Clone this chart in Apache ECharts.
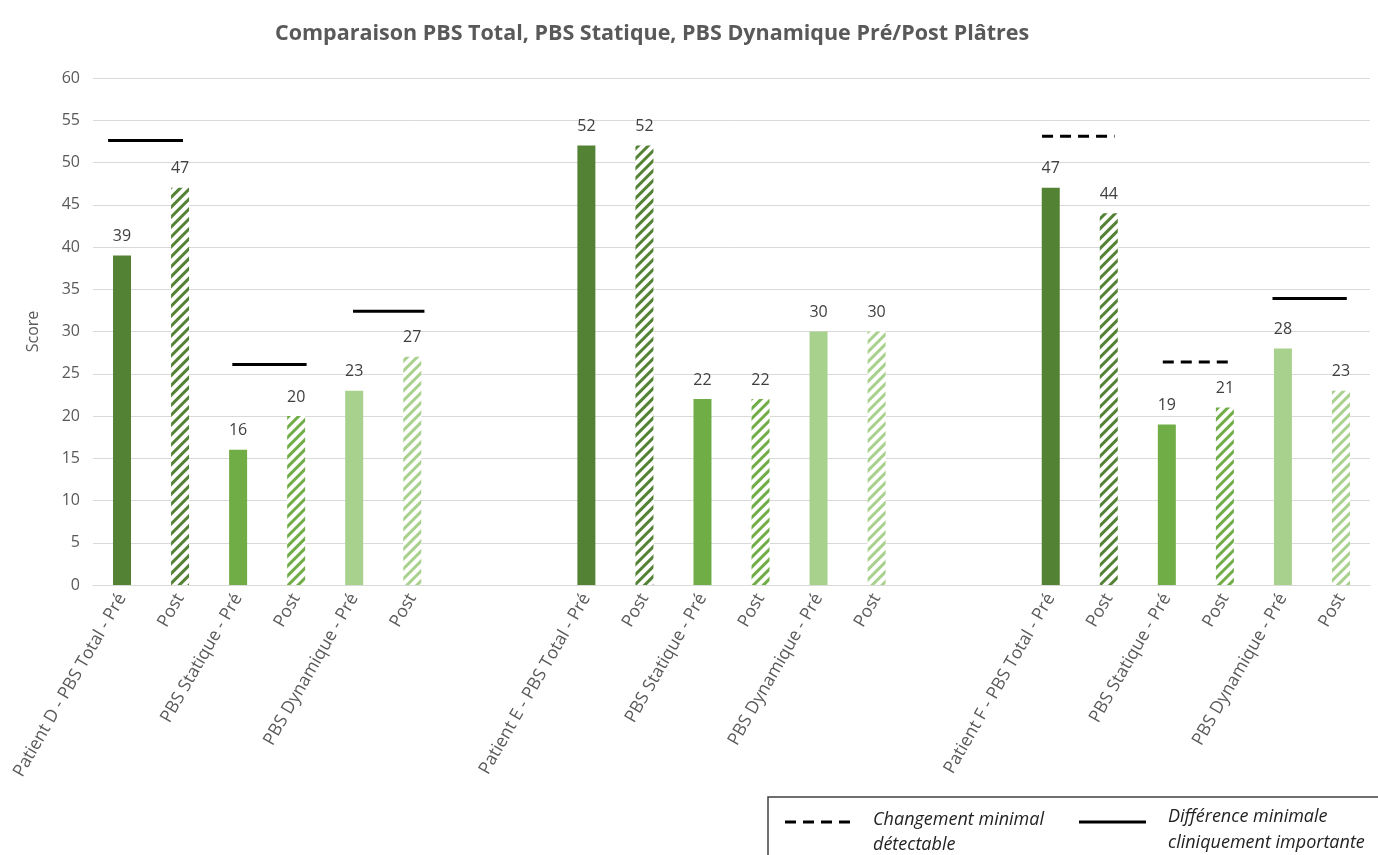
<!DOCTYPE html>
<html>
<head>
<meta charset="utf-8">
<script src="https://cdn.jsdelivr.net/npm/echarts@6/dist/echarts.min.js"></script>
<style>
    html, body { margin: 0; padding: 0; background: #fff; }
    #main { width: 1378px; height: 855px; }
</style>
</head>
<body>
<div id="main"></div>
<script>
    //类目（两组之间留两个空位）
    var categories = [
        'Patient D - PBS Total - Pré', 'Post', 'PBS Statique - Pré', 'Post', 'PBS Dynamique - Pré', 'Post', ' ', '  ',
        'Patient E - PBS Total - Pré', 'Post', 'PBS Statique - Pré', 'Post', 'PBS Dynamique - Pré', 'Post', '   ', '    ',
        'Patient F - PBS Total - Pré', 'Post', 'PBS Statique - Pré', 'Post', 'PBS Dynamique - Pré', 'Post'
    ];
    var scores = [
        39, 47, 16, 20, 23, 27, null, null,
        52, 52, 22, 22, 30, 30, null, null,
        47, 44, 19, 21, 28, 23
    ];
    var yTicks = [0, 5, 10, 15, 20, 25, 30, 35, 40, 45, 50, 55, 60];

    //阈值线：起止位置（类目序号），数值，类型
    var refStart = [-0.24, 1.9, 3.98, 15.85, 17.93, 19.82];
    var refEnd = [1.05, 3.18, 5.21, 17.1, 19.13, 21.1];
    var refValue = [52.6, 26.1, 32.4, 53.1, 26.4, 33.9];
    var refKind = ['mcid', 'mcid', 'mcid', 'mdc', 'mdc', 'mcid'];

    var greens = ['#548235', '#70ad47', '#a9d18e'];
    var grey = '#595959';

    var chart = echarts.init(document.getElementById('main'));

    var barData = scores.map(function (v, i) {
        var k = i % 8;
        var color = greens[Math.floor(k / 2)] || greens[0];
        if (k % 2 === 1) {
            return {
                value: v,
                itemStyle: {
                    color: '#ffffff',
                    decal: {
                        symbol: 'rect',
                        symbolSize: 1,
                        color: color,
                        backgroundColor: '#ffffff',
                        dashArrayX: [1, 0],
                        dashArrayY: [3, 3.6],
                        rotation: -Math.PI / 4
                    }
                }
            };
        }
        return { value: v, itemStyle: { color: color } };
    });

    var series = [{
        type: 'bar',
        xAxisIndex: 0,
        yAxisIndex: 0,
        barWidth: 18,
        data: barData,
        label: {
            show: true,
            position: 'top',
            distance: 11,
            color: '#404040',
            fontSize: 16,
            fontFamily: 'Open Sans'
        }
    }];

    refValue.forEach(function (v, i) {
        series.push({
            type: 'line',
            xAxisIndex: 1,
            yAxisIndex: 0,
            symbol: 'none',
            silent: true,
            lineStyle: {
                color: '#000',
                width: 3,
                type: refKind[i] === 'mdc' ? [11, 7] : 'solid'
            },
            data: [[refStart[i], v], [refEnd[i], v]]
        });
    });

    var option = {
        animation: false,
        backgroundColor: '#fff',
        title: {
            text: 'Comparaison PBS Total, PBS Statique, PBS Dynamique Pré/Post Plâtres',
            left: 270,
            top: 18,
            textStyle: {
                color: grey,
                fontSize: 21.5,
                fontWeight: 'bold',
                fontFamily: 'Open Sans'
            }
        },
        grid: {
            left: 93,
            right: 8,
            top: 78,
            bottom: 270,
            containLabel: false
        },
        xAxis: [{
            type: 'category',
            data: categories,
            axisTick: { show: false },
            axisLine: { lineStyle: { color: '#d9d9d9', width: 1 } },
            axisLabel: {
                interval: 0,
                rotate: 60,
                margin: 10,
                color: grey,
                fontSize: 17.5,
                fontFamily: 'Open Sans'
            }
        }, {
            type: 'value',
            min: -0.5,
            max: 21.5,
            show: false
        }],
        yAxis: {
            type: 'value',
            min: yTicks[0],
            max: yTicks[yTicks.length - 1],
            interval: 5,
            name: 'Score',
            nameLocation: 'middle',
            nameGap: 52,
            nameTextStyle: { color: grey, fontSize: 16, fontFamily: 'Open Sans' },
            axisLine: { show: false },
            axisTick: { show: false },
            axisLabel: { color: grey, fontSize: 16, margin: 13, fontFamily: 'Open Sans' },
            splitLine: { lineStyle: { color: '#d9d9d9', width: 1 } }
        },
        graphic: [
            {
                type: 'rect',
                shape: { x: 768, y: 797, width: 700, height: 120 },
                style: { fill: 'none', stroke: '#404040', lineWidth: 1.5 }
            },
            {
                type: 'line',
                shape: { x1: 785, y1: 822, x2: 852, y2: 822 },
                style: { stroke: '#000', lineWidth: 3, lineDash: [11, 7] }
            },
            {
                type: 'text',
                x: 873, y: 807,
                style: {
                    text: 'Changement minimal\ndétectable',
                    fill: '#222',
                    font: 'italic 18px "Open Sans"',
                    lineHeight: 25
                }
            },
            {
                type: 'line',
                shape: { x1: 1079, y1: 822, x2: 1146, y2: 822 },
                style: { stroke: '#000', lineWidth: 3 }
            },
            {
                type: 'text',
                x: 1168, y: 804,
                style: {
                    text: 'Différence minimale\ncliniquement importante',
                    fill: '#222',
                    font: 'italic 18px "Open Sans"',
                    lineHeight: 26
                }
            }
        ],
        series: series
    };

    chart.setOption(option);
</script>
</body>
</html>
